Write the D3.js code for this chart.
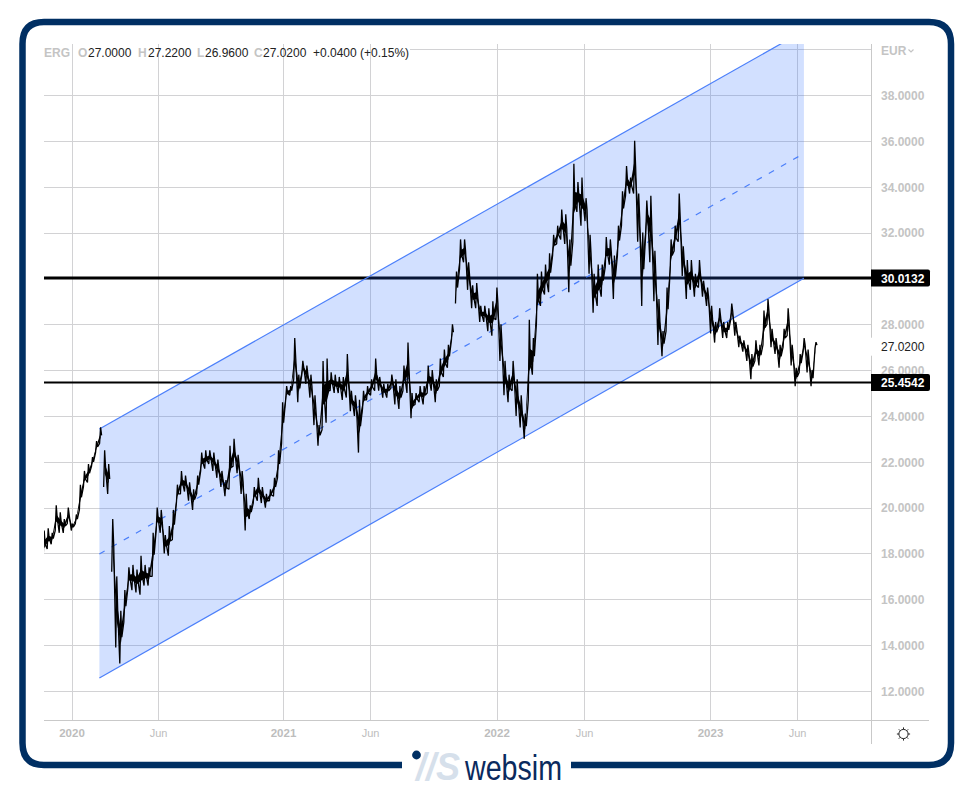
<!DOCTYPE html>
<html>
<head>
<meta charset="utf-8">
<script src="https://cdn.jsdelivr.net/npm/d3@7/dist/d3.min.js"></script>
<style>
html,body{margin:0;padding:0;background:#fff}
svg{display:block}
text{font-family:"Liberation Sans",Arial,sans-serif}
</style>
</head>
<body>
<svg id="chart" width="974" height="788"></svg>
<script>
// ---------- data ----------
const firstSession = "2019-11-14";
const lastSession  = "2023-07-04";
const highs = [
19.0,19.1,18.9,20.1,19.8,19.5,20.0,19.3,19.7,21.0,21.6,21.9,22.2,22.9,23.5,22.5,21.9,19.5,17.0,15.5,
16.4,17.4,17.5,17.3,17.9,17.5,17.4,18.9,20.0,19.9,18.8,19.2,19.9,21.0,21.6,21.4,21.1,20.8,21.4,22.4,
22.5,22.5,22.4,22.1,21.6,21.2,22.7,23.0,22.3,21.6,20.6,20.1,20.9,21.3,20.9,20.6,20.8,21.3,22.5,24.6,
25.3,25.3,27.4,25.8,26.4,26.2,25.8,24.9,23.6,26.4,26.5,25.9,25.8,25.7,25.7,26.7,25.1,24.9,24.7,25.1,
25.3,25.6,26.5,25.7,25.4,25.4,25.8,25.6,25.3,26.2,27.2,25.0,25.0,25.3,25.3,26.2,26.0,25.6,26.5,26.9,
27.1,28.0,30.3,31.7,31.7,30.7,29.7,29.8,28.8,28.8,28.7,29.0,29.6,28.0,26.4,25.8,26.4,25.6,24.9,24.1,
28.2,27.4,30.2,30.3,30.6,31.1,31.9,32.3,33.0,32.8,31.7,35.0,34.2,34.4,33.5,31.9,30.2,30.6,30.6,31.8,
31.7,31.0,32.3,33.8,34.9,34.4,36.0,33.7,32.0,33.4,33.6,31.2,29.1,27.7,29.6,31.7,32.3,33.7,31.4,30.8,
30.8,30.2,30.8,29.9,29.6,28.8,28.1,28.7,28.1,28.1,28.9,28.1,27.5,27.3,27.1,26.7,27.3,27.1,28.6,29.1,
27.8,27.4,27.1,27.8,28.7,27.1,26.1,26.7,27.4,26.9,26.0,27.22];
const lows = [
17.8,18.2,18.4,19.0,18.9,18.9,19.3,19.0,19.3,19.9,20.9,21.1,21.8,22.4,22.8,20.9,20.6,17.2,13.9,13.2,
15.0,16.5,16.4,16.3,16.2,16.6,16.6,17.0,19.0,18.9,18.0,17.9,18.6,20.2,20.6,20.7,20.3,19.9,20.6,21.6,
21.7,21.9,21.6,21.3,20.9,20.5,20.8,21.8,21.5,20.6,19.0,19.5,20.2,20.3,20.2,20.0,20.3,20.5,21.3,22.8,
24.7,24.9,25.6,24.6,25.8,25.4,24.8,23.6,22.7,23.4,23.7,25.1,25.0,25.0,24.7,24.8,24.2,24.0,22.4,24.3,
24.7,24.9,25.1,25.1,24.8,24.8,25.2,24.5,24.3,25.1,25.0,23.9,24.5,24.6,24.5,25.0,25.1,24.6,25.3,25.7,
26.1,27.3,28.9,30.4,30.7,29.5,28.7,28.7,28.1,28.1,27.7,27.5,28.2,26.4,24.9,24.6,25.1,24.0,23.5,23.0,
24.7,25.8,28.0,28.8,29.3,29.4,31.0,31.5,31.7,31.5,29.4,31.6,32.9,32.3,32.5,30.2,28.5,28.8,29.2,30.5,
30.6,29.1,31.0,32.3,33.6,33.7,33.7,31.6,28.8,32.0,30.7,29.0,27.1,26.6,27.7,30.3,31.2,31.6,30.1,29.1,
29.5,29.2,29.6,29.2,28.8,27.6,27.2,27.9,27.4,27.4,28.2,27.5,27.0,26.8,26.4,25.6,26.4,26.2,27.1,28.0,
27.0,26.7,26.1,27.0,27.5,26.2,25.3,25.9,26.8,25.9,25.3,26.96];
const gapsAfter = [14, 16, 101];
const lastClose = 27.02;

const yTicks = [12,14,16,18,20,22,24,26,28,30,32,34,36,38,40];
const xTickDates = ["2020-01-01","2020-06-01","2021-01-01","2021-06-01","2022-01-01","2022-06-01","2023-01-01","2023-06-01"];
const xTickLabels = ["2020","Jun","2021","Jun","2022","Jun","2023","Jun"];
// session number reached at each tick date (the axis is in trading time)
const tickSessions = [6.8,28.2,59.1,80.6,111.9,133.5,164.6,186.2];

const channelDates = ["2020-02-19","2023-06-13"];
const channelUpper = [23.43,40.80];
const channelMiddle = [17.98,35.45];
const channelLower = [12.57,30.01];
const levels = [30.0132,25.4542];

const headerNames = ["O","H","L","C"];
const headerValues = ["27.0000","27.2200","26.9600","27.0200"];
const headerChange = "+0.0400 (+0.15%)";
const symbol = "ERG";
const currency = "EUR";

// ---------- layout ----------
const parse = d3.utcParse("%Y-%m-%d");
const plotL=44, axisX=871, plotR=929, plotT=44, plotB=720;
const svg = d3.select("#chart");

const x = d3.scaleUtc()
  .domain(xTickDates.map(parse))
  .range([71.5,158,283,370,496.5,584,710,797]);
const y = d3.scaleLinear().domain([12,38]).range([691,95]);

const sessionMs = d3.scaleLinear()
  .domain([0,...tickSessions,highs.length-1])
  .range([firstSession,...xTickDates,lastSession].map(s=>+parse(s)));
const session = i => new Date(sessionMs(i));

svg.append("defs").append("clipPath").attr("id","plot")
  .append("rect").attr("x",plotL).attr("y",plotT).attr("width",axisX-plotL).attr("height",plotB-plotT);

const GRID="#d2d2d4";

// grid
const gridY = svg.append("g").attr("shape-rendering","crispEdges");
gridY.selectAll("line").data(yTicks).join("line")
  .attr("x1",d=>d===40?410:plotL).attr("x2",axisX)
  .attr("y1",d=>Math.round(y(d))+.5).attr("y2",d=>Math.round(y(d))+.5)
  .attr("stroke",GRID);
const gridX = svg.append("g").attr("shape-rendering","crispEdges");
gridX.selectAll("line").data(xTickDates).join("line")
  .attr("x1",d=>Math.round(x(parse(d)))+.5).attr("x2",d=>Math.round(x(parse(d)))+.5)
  .attr("y1",plotT).attr("y2",plotB).attr("stroke",GRID);

// upper level sits under the channel
const plot = svg.append("g").attr("clip-path","url(#plot)");
plot.append("line").attr("x1",plotL).attr("x2",axisX)
  .attr("y1",y(levels[0])).attr("y2",y(levels[0]))
  .attr("stroke","#000").attr("stroke-width",3);

// channel
const cd = channelDates.map(parse);
const band = d3.area().x(d=>x(d.t)).y0(d=>y(d.lo)).y1(d=>y(d.hi));
plot.append("path")
  .attr("d",band(cd.map((t,i)=>({t,lo:channelLower[i],hi:channelUpper[i]}))))
  .attr("fill","#2a6bff").attr("fill-opacity",.21);
const chLine = d3.line().x(d=>x(d.t)).y(d=>y(d.v));
[[channelUpper,null],[channelLower,null],[channelMiddle,"6 8"]].forEach(([vals,dash])=>{
  plot.append("path").attr("d",chLine(cd.map((t,i)=>({t,v:vals[i]}))))
    .attr("fill","none").attr("stroke","#4b7ffa").attr("stroke-width",1.2)
    .attr("stroke-dasharray",dash);
});

// lower level
plot.append("line").attr("x1",plotL).attr("x2",axisX)
  .attr("y1",y(levels[1])).attr("y2",y(levels[1]))
  .attr("stroke","#000").attr("stroke-width",2);

// dense body of each session's range
const body=[];
highs.forEach((h,i)=>{
  const inset=(h-lows[i])*.36;
  body.push({t:session(i),hi:h-inset,lo:lows[i]+inset});
  if(gapsAfter.includes(i)) body.push(null);
});
plot.append("path")
  .attr("d",d3.area().defined(d=>d).x(d=>x(d.t)).y0(d=>y(d.lo)).y1(d=>y(d.hi))(body))
  .attr("fill","#000");

// price trace: every session swings low -> high, broken at the gaps
const pts=[];
highs.forEach((h,i)=>{
  pts.push({t:session(i-0.25),v:lows[i]});
  pts.push({t:session(i),v:h});
  pts.push({t:session(i+0.25),v:lows[i]+(h-lows[i])*.5});
  if(gapsAfter.includes(i)) pts.push(null);
});
const priceLine = d3.line().defined(d=>d).x(d=>x(d.t)).y(d=>y(d.v));
plot.append("path").attr("d",priceLine(pts))
  .attr("fill","none").attr("stroke","#000").attr("stroke-width",1.3).attr("stroke-linejoin","bevel");

// axes
const LABEL="#c4c4c4";
const yAxis = d3.axisRight(y).tickValues(yTicks.filter(d=>d<40)).tickSize(0).tickPadding(10).tickFormat(d3.format(".4f"));
const gy = svg.append("g").attr("transform",`translate(${axisX},0.5)`).call(yAxis);
gy.select(".domain").remove();
gy.selectAll("text").attr("fill",LABEL).attr("font-size",12).attr("font-weight","bold")
  .style("font-family",'"Liberation Sans",Arial,sans-serif');

const xAxis = d3.axisBottom(x).tickValues(xTickDates.map(parse)).tickSize(0).tickPadding(8)
  .tickFormat((d,i)=>xTickLabels[i]);
const gx = svg.append("g").attr("transform",`translate(0,${plotB+1})`).call(xAxis);
gx.select(".domain").remove();
gx.selectAll("text").attr("fill",d=>"#bdbdbd")
  .attr("font-size",(d,i)=>xTickLabels[i]==="Jun"?11:11.5)
  .attr("font-weight",(d,i)=>xTickLabels[i]==="Jun"?"normal":"bold")
  .style("font-family",'"Liberation Sans",Arial,sans-serif');

svg.append("line").attr("x1",plotL).attr("x2",plotR).attr("y1",plotB+.5).attr("y2",plotB+.5)
  .attr("stroke","#c9c9c9").attr("shape-rendering","crispEdges");
svg.append("line").attr("x1",axisX+.5).attr("x2",axisX+.5).attr("y1",plotT).attr("y2",744)
  .attr("stroke","#c9c9c9").attr("shape-rendering","crispEdges");

// axis price labels
svg.append("rect").attr("x",axisX-.5).attr("y",y(lastClose)-9).attr("width",58).attr("height",18).attr("fill","#fff");
svg.append("text").attr("x",axisX+10).attr("y",y(lastClose)+4.8).attr("font-size",12).attr("fill","#222").text(lastClose.toFixed(4));
levels.forEach(v=>{
  svg.append("path").attr("d",()=>{
    const a=y(v)-8.5,b=y(v)+8.5,l=axisX,r=axisX+59;
    return `M${l},${a}H${r-2}Q${r},${a} ${r},${a+2}V${b-2}Q${r},${b} ${r-2},${b}H${l}Z`;
  }).attr("fill","#000");
  svg.append("text").attr("x",axisX+10).attr("y",y(v)+4.6).attr("font-size",12).attr("font-weight","bold")
    .attr("fill","#fff").text(v.toFixed(4));
});

// currency
svg.append("text").attr("x",881).attr("y",54.5).attr("font-size",12).attr("font-weight","bold").attr("fill",LABEL).text(currency);
svg.append("path").attr("d","M908.5,49.5l2.5,2.5l2.5,-2.5").attr("fill","none").attr("stroke",LABEL).attr("stroke-width",1.2);

// header
const head = svg.append("g").attr("font-size",12);
head.append("text").attr("x",44).attr("y",57).attr("font-weight","bold").attr("fill",LABEL).text(symbol);
const nameX=[78,138,197,254], valX=[88,148,205,263];
headerNames.forEach((n,i)=>{
  head.append("text").attr("x",nameX[i]).attr("y",57).attr("fill",LABEL).attr("font-weight","bold").text(n);
  head.append("text").attr("x",valX[i]).attr("y",57).attr("fill","#222").text(headerValues[i]);
});
head.append("text").attr("x",313).attr("y",57).attr("fill","#222").text(headerChange);

// sun icon
const sun = svg.append("g").attr("transform","translate(903.5,734)").attr("stroke","#222").attr("fill","none");
sun.append("circle").attr("r",4.6).attr("stroke-width",1);
d3.range(8).forEach(i=>{
  const a=i*Math.PI/4;
  sun.append("line").attr("x1",Math.cos(a)*4.6).attr("y1",Math.sin(a)*4.6)
    .attr("x2",Math.cos(a)*6.6).attr("y2",Math.sin(a)*6.6).attr("stroke-width",1);
});

// frame with logo gap
const NAVY="#002f63";
svg.append("path")
  .attr("d","M402,765H44Q22.5,765 22.5,743V44Q22.5,22 44,22H929Q951,22 951,44V743Q951,765 929,765H571")
  .attr("fill","none").attr("stroke",NAVY).attr("stroke-width",6.5);

// logo
svg.append("circle").attr("cx",416.5).attr("cy",755).attr("r",4.4).attr("fill",NAVY);
svg.append("text").attr("x",416).attr("y",780).attr("font-size",38).attr("font-weight","bold").attr("font-style","italic")
  .attr("fill","#d6e0eb").attr("textLength",44).attr("lengthAdjust","spacingAndGlyphs").text("//S");
svg.append("text").attr("x",465).attr("y",780).attr("font-size",35).attr("fill","#0a2a5e")
  .attr("textLength",97).attr("lengthAdjust","spacingAndGlyphs").text("websim");
</script>
</body>
</html>
